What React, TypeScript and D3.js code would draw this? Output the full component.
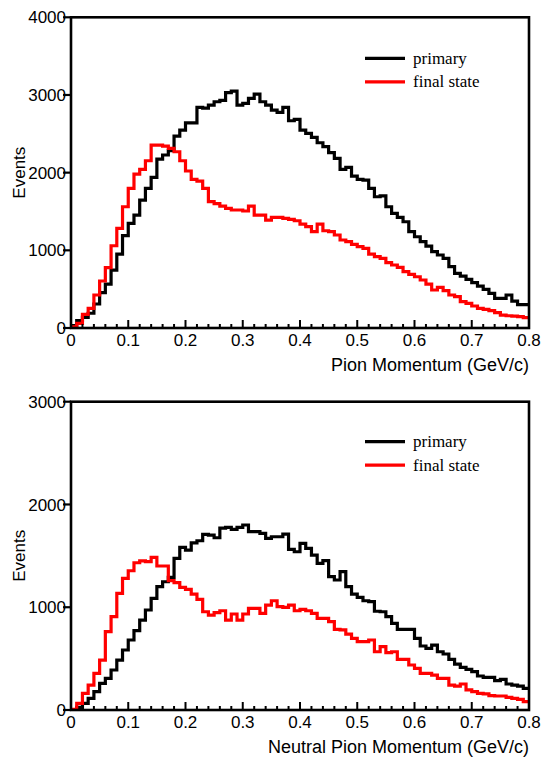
import React from "react";
import * as d3 from "d3";

const binEdgesStart = d3.range(0, 80).map((i) => i * 0.01);

const topPrimary = [
  30, 94, 137, 190, 309, 455, 566, 746, 952, 1188,
  1347, 1454, 1647, 1798, 1939, 2175, 2227, 2282, 2471, 2548,
  2642, 2642, 2840, 2830, 2870, 2913, 2930, 3030, 3050, 2870,
  2892, 2956, 3012, 2913, 2870, 2806, 2776, 2840, 2668, 2686,
  2548, 2505, 2454, 2385, 2334, 2257, 2184, 2042, 2068, 1956,
  1914, 1905, 1798, 1690, 1700, 1561, 1476, 1425, 1368, 1240,
  1175, 1111, 1055, 982, 940, 897, 789, 704, 669, 627,
  584, 540, 498, 446, 382, 382, 425, 347, 300, 300,
];

const topFinal = [
  15, 60, 176, 253, 425, 605, 776, 1059, 1283, 1561,
  1798, 1982, 2042, 2153, 2355, 2355, 2342, 2312, 2269, 2153,
  2021, 1914, 1892, 1798, 1626, 1600, 1570, 1540, 1519, 1519,
  1506, 1570, 1454, 1454, 1390, 1425, 1425, 1412, 1399, 1381,
  1338, 1304, 1240, 1338, 1252, 1240, 1197, 1133, 1111, 1077,
  1047, 1025, 952, 920, 897, 841, 811, 781, 725, 691,
  660, 618, 566, 489, 524, 480, 425, 403, 339, 318,
  283, 253, 240, 223, 197, 167, 158, 154, 146, 133,
];

const bottomPrimary = [
  5, 26, 65, 113, 178, 259, 308, 389, 486, 584,
  681, 772, 875, 973, 1086, 1200, 1248, 1290, 1475, 1582,
  1556, 1627, 1647, 1709, 1702, 1676, 1770, 1777, 1758, 1777,
  1800, 1735, 1735, 1719, 1670, 1686, 1686, 1712, 1563, 1540,
  1621, 1573, 1508, 1427, 1453, 1297, 1265, 1346, 1200, 1128,
  1096, 1063, 1054, 961, 956, 908, 843, 785, 785, 785,
  697, 623, 600, 632, 567, 545, 493, 447, 415, 396,
  373, 331, 318, 318, 285, 298, 253, 243, 233, 211,
];

const bottomFinal = [
  7, 65, 162, 243, 357, 486, 762, 908, 1135, 1281,
  1355, 1433, 1452, 1443, 1485, 1401, 1401, 1258, 1239, 1193,
  1174, 1128, 1077, 956, 924, 947, 966, 875, 934, 875,
  934, 989, 989, 941, 1021, 1063, 1005, 999, 1021, 966,
  979, 966, 941, 892, 892, 859, 785, 780, 739, 697,
  665, 665, 681, 567, 616, 558, 567, 493, 493, 438,
  405, 357, 357, 340, 308, 308, 243, 233, 253, 195,
  178, 162, 156, 139, 136, 136, 123, 113, 104, 81,
];

const xTickValues = [0, 0.1, 0.2, 0.3, 0.4, 0.5, 0.6, 0.7, 0.8];
const xTickLabels = ["0", "0.1", "0.2", "0.3", "0.4", "0.5", "0.6", "0.7", "0.8"];
const topYTicks = [0, 1000, 2000, 3000, 4000];
const bottomYTicks = [0, 1000, 2000, 3000];
const legendLabels = ["primary", "final state"];
const seriesColors = ["#000000", "#ff0000"];

const SANS = "'Liberation Sans', Arial, sans-serif";
const SERIF = "'Liberation Serif', 'Times New Roman', serif";

type PanelProps = {
  top: number;
  bottom: number;
  yMax: number;
  yTicks: number[];
  series: number[][];
  xTitle: string;
  legendY: number;
};

function Panel({ top, bottom, yMax, yTicks, series, xTitle, legendY }: PanelProps) {
  const left = 71;
  const right = 529;
  const x = d3.scaleLinear().domain([0, 0.8]).range([left, right]);
  const y = d3.scaleLinear().domain([0, yMax]).range([bottom, top]);
  const line = d3
    .line<[number, number]>()
    .x((d) => x(d[0]))
    .y((d) => y(d[1]))
    .curve(d3.curveStepAfter);

  const minorTicks = d3.range(0, 41).map((i) => i * 0.02);

  return (
    <g>
      {series.map((vals, si) => {
        const pts: [number, number][] = vals.map((v, i) => [binEdgesStart[i], v]);
        pts.push([0.8, vals[vals.length - 1]]);
        return (
          <path
            key={si}
            d={line(pts) || ""}
            fill="none"
            stroke={seriesColors[si]}
            strokeWidth={3.2}
            strokeLinejoin="miter"
          />
        );
      })}
      <rect
        x={left}
        y={top}
        width={right - left}
        height={bottom - top}
        fill="none"
        stroke="#000"
        strokeWidth={2.6}
      />
      {minorTicks.map((t, i) => (
        <line
          key={"m" + i}
          x1={x(t)}
          x2={x(t)}
          y1={bottom}
          y2={bottom - (i % 5 === 0 ? 8 : 4)}
          stroke="#000"
          strokeWidth={2}
        />
      ))}
      {xTickValues.map((t, i) => (
        <text
          key={"xl" + i}
          x={x(t)}
          y={bottom + 18}
          textAnchor="middle"
          fontFamily={SANS}
          fontSize={17}
          fill="#000"
        >
          {xTickLabels[i]}
        </text>
      ))}
      <text
        x={right}
        y={bottom + 43}
        textAnchor="end"
        fontFamily={SANS}
        fontSize={18}
        fill="#000"
      >
        {xTitle}
      </text>
      {yTicks.map((t, i) => (
        <g key={"y" + i}>
          <line x1={left} x2={left - 8} y1={y(t)} y2={y(t)} stroke="#000" strokeWidth={2.2} />
          <text
            x={66}
            y={y(t)}
            dy="0.36em"
            textAnchor="end"
            fontFamily={SANS}
            fontSize={17}
            fill="#000"
          >
            {String(t)}
          </text>
        </g>
      ))}
      <text
        transform={`translate(25, ${(top + bottom) / 2}) rotate(-90)`}
        textAnchor="middle"
        fontFamily={SANS}
        fontSize={17}
        fill="#000"
      >
        Events
      </text>
      {legendLabels.map((lab, i) => (
        <g key={"lg" + i}>
          <line
            x1={365}
            x2={405}
            y1={legendY + i * 23.5}
            y2={legendY + i * 23.5}
            stroke={seriesColors[i]}
            strokeWidth={3.2}
          />
          <text
            x={413}
            y={legendY + i * 23.5 + 5.5}
            fontFamily={SERIF}
            fontSize={17}
            fill="#000"
          >
            {lab}
          </text>
        </g>
      ))}
    </g>
  );
}

export default function App() {
  return (
    <svg
      width={541}
      height={760}
      style={{ position: "absolute", left: 0, top: 0, background: "#fff" }}
    >
      <rect x={0} y={0} width={541} height={760} fill="#fff" />
      <Panel
        top={17.3}
        bottom={328}
        yMax={4000}
        yTicks={topYTicks}
        series={[topPrimary, topFinal]}
        xTitle="Pion Momentum (GeV/c)"
        legendY={58.3}
      />
      <Panel
        top={401.7}
        bottom={710}
        yMax={3000}
        yTicks={bottomYTicks}
        series={[bottomPrimary, bottomFinal]}
        xTitle="Neutral Pion Momentum (GeV/c)"
        legendY={441.7}
      />
    </svg>
  );
}
